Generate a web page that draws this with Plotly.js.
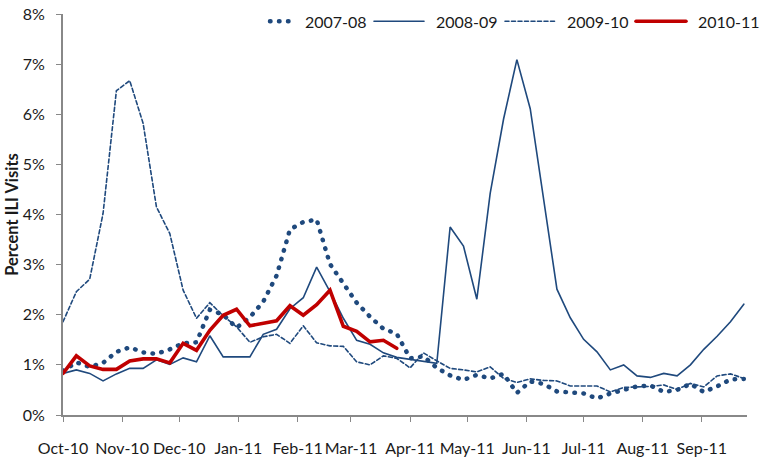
<!DOCTYPE html>
<html>
<head>
<meta charset="utf-8">
<script src="https://cdn.plot.ly/plotly-3.0.1.min.js"></script>
<style>
html,body{margin:0;padding:0;background:#fff;}
#chart{width:760px;height:459px;}
path.js-line{stroke-linecap:round;}
</style>
</head>
<body>
<div id="chart"></div>
<script>
// Weekly points from Oct 2010 through Sep 2011
const startDate = '2010-10-01';
const nWeeks = 52;

const seriesNames = ['2007-08', '2008-09', '2009-10', '2010-11'];

const s2007_08 = [0.88,1.05,0.96,1.04,1.26,1.35,1.25,1.22,1.31,1.43,
                  1.45,2.10,2.00,1.74,1.95,2.26,2.78,3.70,3.85,3.90,
                  3.01,2.62,2.24,1.96,1.72,1.62,1.13,1.17,0.94,0.79,
                  0.70,0.80,0.73,0.82,0.44,0.67,0.62,0.47,0.44,0.43,
                  0.33,0.43,0.50,0.57,0.59,0.46,0.50,0.62,0.46,0.57,
                  0.71,0.72];

const s2008_09 = [0.83,0.90,0.83,0.68,0.82,0.93,0.93,1.10,1.01,1.14,
                  1.06,1.58,1.16,1.16,1.16,1.61,1.71,2.12,2.34,2.95,
                  2.46,1.93,1.49,1.41,1.24,1.15,1.11,1.08,1.03,3.75,
                  3.37,2.31,4.42,5.90,7.09,6.11,4.30,2.51,1.94,1.51,
                  1.26,0.90,1.00,0.78,0.75,0.83,0.78,1.00,1.31,1.57,
                  1.86,2.21];

const s2009_10 = [1.86,2.46,2.71,4.02,6.47,6.67,5.82,4.15,3.62,2.49,
                  1.93,2.24,1.98,1.76,1.45,1.56,1.61,1.43,1.78,1.44,
                  1.38,1.37,1.06,1.00,1.18,1.13,0.94,1.24,1.08,0.93,
                  0.90,0.86,0.96,0.73,0.65,0.72,0.69,0.68,0.58,0.58,
                  0.58,0.46,0.55,0.56,0.57,0.60,0.51,0.63,0.56,0.78,
                  0.82,0.73];

const s2010_11 = [0.83,1.18,0.98,0.91,0.91,1.08,1.12,1.12,1.04,1.43,
                  1.29,1.69,1.99,2.11,1.78,1.83,1.88,2.18,1.99,2.20,
                  2.49,1.77,1.67,1.46,1.49,1.33];

const yTickVals = [0,1,2,3,4,5,6,7,8];
const yTickText = ['0%','1%','2%','3%','4%','5%','6%','7%','8%'];

function weekDates(n){
  const out = [];
  const d0 = new Date(startDate + 'T00:00:00Z');
  for(let i=0;i<n;i++){
    const d = new Date(d0.getTime() + i*7*86400000);
    out.push(d.toISOString().slice(0,10));
  }
  return out;
}
const dates = weekDates(nWeeks);

const blue = 'rgb(31,73,125)';
const red = 'rgb(192,0,0)';

const traces = [
  {x: dates.slice(0,s2007_08.length), y: s2007_08, name: seriesNames[0], mode:'lines',
   line:{color:blue, width:4.5, dash:'0.5px,8.5px'}},
  {x: dates.slice(0,s2008_09.length), y: s2008_09, name: seriesNames[1], mode:'lines',
   line:{color:blue, width:1.6}},
  {x: dates.slice(0,s2009_10.length), y: s2009_10, name: seriesNames[2], mode:'lines',
   line:{color:blue, width:1.6, dash:'4px,2.5px'}},
  {x: dates.slice(0,s2010_11.length), y: s2010_11, name: seriesNames[3], mode:'lines',
   line:{color:red, width:3.6}}
];

const fam = 'Lato, "Open Sans", sans-serif';
const txt = '#1a1a1a';

const layout = {
  width:760, height:459,
  margin:{l:63, r:13, t:14, b:44, autoexpand:false},
  paper_bgcolor:'#fff', plot_bgcolor:'#fff',
  font:{family:fam, size:16, color:txt},
  showlegend:true,
  legend:{orientation:'h', x:0, y:0.9825, xanchor:'left', yanchor:'middle',
          font:{family:fam, size:16, color:txt},
          entrywidth:86, entrywidthmode:'pixels',
          bgcolor:'rgba(0,0,0,0)'},
  xaxis:{type:'date', range:['2010-10-01','2011-09-24 16:00'],
         tick0:'2010-10-01', dtick:'M1', tickformat:'%b-%y', tickangle:0,
         showgrid:false, zeroline:false, showline:true, linecolor:'#888', linewidth:2,
         ticks:'outside', ticklen:5, tickcolor:'#888', tickwidth:1,
         ticklabelstandoff:13, tickfont:{family:fam, size:16, color:txt},
         fixedrange:true},
  yaxis:{range:[0,8], tickvals:yTickVals, ticktext:yTickText,
         showgrid:false, zeroline:false, showline:true, linecolor:'#888', linewidth:2,
         ticks:'outside', ticklen:5, tickcolor:'#888', tickwidth:1,
         ticklabelstandoff:8,
         tickfont:{family:fam, size:16, color:txt},
         title:{text:'Percent ILI Visits', font:{family:fam, size:16.5, color:txt, weight:'bold'}, standoff:0},
         fixedrange:true}
};

Plotly.newPlot('chart', traces, layout, {displayModeBar:false, staticPlot:true}).then(function(gd){
  // lengthen legend line samples to match the reference
  gd.querySelectorAll('.legend .legendlines path').forEach(function(p){
    p.setAttribute('d','M-22,0h50');
  });
  // place the legend so its first label starts where the reference's does
  const leg = gd.querySelector('g.legend');
  const firstText = gd.querySelector('g.legend text.legendtext');
  if(leg && firstText){
    const r = firstText.getBoundingClientRect();
    const m = /translate\(([-\d.]+)[ ,]+([-\d.]+)\)/.exec(leg.getAttribute('transform') || '');
    if(m){
      const tx = parseFloat(m[1]) + (305 - r.left);
      const ty = parseFloat(m[2]) + (21 - (r.top + r.height/2));
      leg.setAttribute('transform','translate(' + tx + ',' + ty + ')');
    }
  }
});
</script>
</body>
</html>
